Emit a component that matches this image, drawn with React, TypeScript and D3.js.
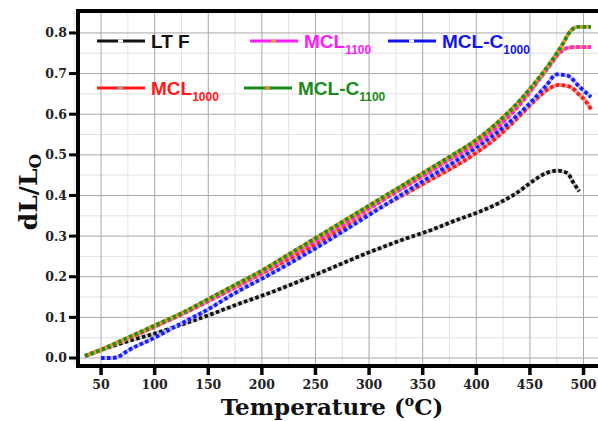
import React from 'react';
import * as d3 from 'd3';

// chart size
const svgWidth = 598;
const svgHeight = 421;
const plotLeft = 78;
const plotRight = 598;
const plotTop = 11;
const plotBottom = 366;

// tick values
const xTicks = [50, 100, 150, 200, 250, 300, 350, 400, 450, 500];
const yTicks = [0.0, 0.1, 0.2, 0.3, 0.4, 0.5, 0.6, 0.7, 0.8];
const xMinor = [25, 75, 125, 175, 225, 275, 325, 375, 425, 475, 525];
const yMinor = [0.05, 0.15, 0.25, 0.35, 0.45, 0.55, 0.65, 0.75, 0.85];

// LT F
const ltfTemp = [35, 50, 65, 80, 100, 125, 150, 175, 207, 250, 300, 330, 360, 380, 400, 420, 437, 452, 465, 476, 485, 490, 496];
const ltfVal = [0.005, 0.02, 0.033, 0.045, 0.06, 0.082, 0.105, 0.13, 0.16, 0.205, 0.26, 0.29, 0.317, 0.338, 0.357, 0.38, 0.405, 0.434, 0.455, 0.461, 0.455, 0.434, 0.41];

// MCL 1000
const mcl1000Temp = [35, 50, 75, 100, 150, 200, 250, 300, 350, 400, 420, 440, 455, 465, 477, 487, 496, 502, 507];
const mcl1000Val = [0.005, 0.02, 0.048, 0.077, 0.14, 0.208, 0.28, 0.355, 0.428, 0.505, 0.545, 0.595, 0.635, 0.658, 0.672, 0.668, 0.648, 0.632, 0.612];

// MCL-C 1000
const mclc1000Temp = [50, 60, 66, 75, 100, 119, 150, 175, 207, 250, 300, 350, 400, 430, 450, 465, 475, 485, 496, 507];
const mclc1000Val = [0.0, 0.0, 0.003, 0.018, 0.05, 0.077, 0.12, 0.16, 0.205, 0.27, 0.352, 0.435, 0.518, 0.578, 0.627, 0.67, 0.698, 0.695, 0.668, 0.642];

// MCL 1100
const mcl1100Temp = [35, 50, 75, 100, 125, 150, 175, 200, 225, 250, 275, 300, 325, 350, 375, 400, 420, 440, 460, 470, 478, 485, 492, 507];
const mcl1100Val = [0.005, 0.02, 0.049, 0.078, 0.107, 0.14, 0.175, 0.21, 0.25, 0.288, 0.328, 0.368, 0.408, 0.448, 0.488, 0.528, 0.569, 0.622, 0.69, 0.725, 0.752, 0.763, 0.765, 0.765];

// MCL-C 1100
const mclc1100Temp = [35, 50, 75, 100, 125, 150, 175, 200, 225, 250, 275, 300, 325, 350, 375, 400, 420, 440, 460, 470, 480, 488, 495, 507];
const mclc1100Val = [0.005, 0.02, 0.05, 0.08, 0.11, 0.145, 0.18, 0.215, 0.255, 0.295, 0.335, 0.375, 0.415, 0.455, 0.495, 0.537, 0.58, 0.632, 0.695, 0.73, 0.77, 0.805, 0.815, 0.815];

// series styles: main dash color + gap color
const series = [
  { temp: ltfTemp, val: ltfVal, color: '#111111', gap: '#c8c8c8' },
  { temp: mcl1000Temp, val: mcl1000Val, color: '#ff1a1a', gap: '#ff9a9a' },
  { temp: mclc1000Temp, val: mclc1000Val, color: '#1a1aff', gap: '#b8b8ff' },
  { temp: mcl1100Temp, val: mcl1100Val, color: '#ff1aff', gap: '#f0a030' },
  { temp: mclc1100Temp, val: mclc1100Val, color: '#1f8c1f', gap: '#e89a30' },
];

const xScale = d3.scaleLinear().domain([28.5, 513.5]).range([plotLeft, plotRight]);
const yScale = d3.scaleLinear().domain([-0.0197, 0.854]).range([plotBottom, plotTop]);

const lineGen = d3.line<[number, number]>()
  .x(d => xScale(d[0]))
  .y(d => yScale(d[1]))
  .curve(d3.curveMonotoneX);

const serif = '"DejaVu Serif", serif';
const sans = '"Liberation Sans", Arial, sans-serif';

// legend entries
const legendItems = [
  { label: 'LT F', sub: '', color: '#111111', mark: '#ffffff', x: 97, y: 41 },
  { label: 'MCL', sub: '1100', color: '#ff1aff', mark: '#f0a030', x: 250, y: 41 },
  { label: 'MCL-C', sub: '1000', color: '#1414ee', mark: '#ffffff', x: 388, y: 41 },
  { label: 'MCL', sub: '1000', color: '#ff1a1a', mark: '#a0a0a0', x: 97, y: 88 },
  { label: 'MCL-C', sub: '1100', color: '#1a8a1a', mark: '#e08a2a', x: 244, y: 88 },
];

export default function App() {
  return (
    <svg width={svgWidth} height={svgHeight} style={{ display: 'block', position: 'absolute', left: 0, top: 0 }}>
      <rect width={svgWidth} height={svgHeight} fill="#ffffff" />

      {/* minor grid */}
      {xMinor.map(t => (
        <line key={'xm' + t} x1={xScale(t)} x2={xScale(t)} y1={plotTop} y2={plotBottom} stroke="#e2e2e2" strokeWidth={1} />
      ))}
      {yMinor.map(t => (
        <line key={'ym' + t} x1={plotLeft} x2={plotRight} y1={yScale(t)} y2={yScale(t)} stroke="#e2e2e2" strokeWidth={1} />
      ))}
      {/* major grid */}
      {xTicks.map(t => (
        <line key={'xg' + t} x1={xScale(t)} x2={xScale(t)} y1={plotTop} y2={plotBottom} stroke="#a8a8a8" strokeWidth={1} />
      ))}
      {yTicks.map(t => (
        <line key={'yg' + t} x1={plotLeft} x2={plotRight} y1={yScale(t)} y2={yScale(t)} stroke="#a8a8a8" strokeWidth={1} />
      ))}

      {/* data lines */}
      {series.map((s, i) => {
        const pts = s.temp.map((t, j) => [t, s.val[j]] as [number, number]);
        const d = lineGen(pts) || '';
        return (
          <g key={i}>
            <path d={d} fill="none" stroke={s.gap} strokeWidth={3.8} />
            <path d={d} fill="none" stroke={s.color} strokeWidth={3.8} strokeDasharray="3.5 2.5" />
          </g>
        );
      })}

      {/* legend */}
      {legendItems.map((l, i) => (
        <g key={'lg' + i}>
          <line x1={l.x} x2={l.x + 48} y1={l.y} y2={l.y} stroke={l.color} strokeWidth={3} />
          <line x1={l.x + 21} x2={l.x + 26} y1={l.y} y2={l.y} stroke={l.mark} strokeWidth={3} />
          <text x={l.x + 54} y={l.y + 7} fill={l.color} fontFamily={sans} fontWeight="bold" fontSize={19}>
            {l.label}
            {l.sub && <tspan fontSize={12} dy={6}>{l.sub}</tspan>}
          </text>
        </g>
      ))}

      {/* frame / axes */}
      <line x1={plotLeft - 2} x2={plotRight} y1={plotTop} y2={plotTop} stroke="#000" strokeWidth={4} />
      <line x1={plotLeft} x2={plotLeft} y1={plotTop - 2} y2={plotBottom + 2} stroke="#000" strokeWidth={4} />
      <line x1={plotLeft - 2} x2={plotRight} y1={plotBottom} y2={plotBottom} stroke="#000" strokeWidth={4} />

      {yTicks.map(t => (
        <g key={'yt' + t}>
          <line x1={plotLeft - 9} x2={plotLeft} y1={yScale(t)} y2={yScale(t)} stroke="#000" strokeWidth={3} />
          <text x={plotLeft - 11} y={yScale(t) + 4.5} textAnchor="end" fontFamily={serif} fontWeight="bold" fontSize={12.5} fill="#222">
            {d3.format('.1f')(t)}
          </text>
        </g>
      ))}
      {xTicks.map(t => (
        <g key={'xt' + t}>
          <line x1={xScale(t)} x2={xScale(t)} y1={plotBottom} y2={plotBottom + 9} stroke="#000" strokeWidth={3.5} />
          <text x={xScale(t)} y={plotBottom + 23} textAnchor="middle" fontFamily={serif} fontWeight="bold" fontSize={12.5} fill="#222">
            {t}
          </text>
        </g>
      ))}

      {/* axis titles */}
      <text x={332} y={415} textAnchor="middle" fontFamily={serif} fontWeight="bold" fontSize={23} fill="#111">
        Temperature (<tspan fontSize={14} dy={-9}>o</tspan><tspan dy={9}>C)</tspan>
      </text>
      <text transform="translate(37,192) rotate(-90)" textAnchor="middle" fontFamily={serif} fontWeight="bold" fontSize={25} fill="#111">
        dL/L<tspan fontSize={17} dy={4}>O</tspan>
      </text>
    </svg>
  );
}
